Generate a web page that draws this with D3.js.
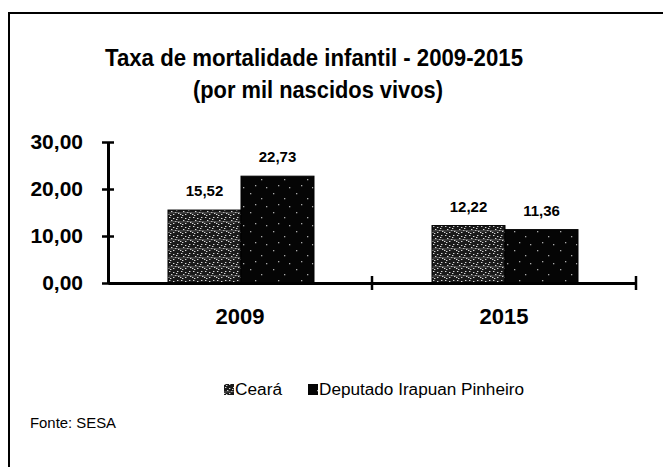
<!DOCTYPE html>
<html>
<head>
<meta charset="utf-8">
<script src="https://cdn.jsdelivr.net/npm/d3@7"></script>
<style>
  html, body { margin: 0; padding: 0; background: #fff; }
  svg { display: block; font-family: "Liberation Sans", Arial, sans-serif; }
</style>
</head>
<body>
<svg id="chart" width="663" height="467"></svg>
<script>
// Chart data
const categories = ["2009", "2015"];
const seriesNames = ["Ceará", "Deputado Irapuan Pinheiro"];
const cearaValues = [15.52, 12.22];
const deputadoValues = [22.73, 11.36];
const yTicks = [0, 10, 20, 30];
const titleLines = ["Taxa de mortalidade infantil - 2009-2015", "(por mil nascidos vivos)"];
const sourceText = "Fonte: SESA";

const fmt = v => v.toFixed(2).replace(".", ",");

const svg = d3.select("#chart");

// Textures for the two series
const defs = svg.append("defs");
const p1 = defs.append("pattern").attr("id", "texCeara").attr("patternUnits", "userSpaceOnUse")
  .attr("width", 12).attr("height", 9);
p1.append("rect").attr("width", 12).attr("height", 9).attr("fill", "#1a1a1a");
[[1,1],[5,2],[9,1],[3,4],[7,5],[10,6],[0,7],[5,7],[8,3],[2,8]].forEach(([x, y]) =>
  p1.append("rect").attr("x", x).attr("y", y).attr("width", 1.4).attr("height", 1).attr("fill", "#d8d8d8"));
p1.append("line").attr("x1", 0).attr("y1", 6).attr("x2", 12).attr("y2", 5.5).attr("stroke", "#888").attr("stroke-width", 0.6);

const p2 = defs.append("pattern").attr("id", "texDep").attr("patternUnits", "userSpaceOnUse")
  .attr("width", 23).attr("height", 19);
p2.append("rect").attr("width", 23).attr("height", 19).attr("fill", "#050505");
[[4,3],[15,8],[9,14],[20,16]].forEach(([x, y]) =>
  p2.append("rect").attr("x", x).attr("y", y).attr("width", 1.3).attr("height", 1.3).attr("fill", "#aaa"));

// Outer frame
svg.append("path").attr("d", "M9,470 V13 H666").attr("fill", "none").attr("stroke", "#000").attr("stroke-width", 2);

// Title
svg.append("text").attr("x", 314).attr("y", 66).attr("text-anchor", "middle")
  .attr("font-size", 23).attr("font-weight", "bold")
  .attr("textLength", 418).attr("lengthAdjust", "spacingAndGlyphs")
  .text(titleLines[0]);
svg.append("text").attr("x", 318).attr("y", 98).attr("text-anchor", "middle")
  .attr("font-size", 23).attr("font-weight", "bold")
  .attr("textLength", 250).attr("lengthAdjust", "spacingAndGlyphs")
  .text(titleLines[1]);

// Scales
const x0 = d3.scaleBand().domain(categories).range([108, 636]);
const x1 = d3.scaleBand().domain(seriesNames).range([60, 206]);
const y = d3.scaleLinear().domain([0, 30]).range([283, 142]);

const rows = categories.map((c, i) => ({
  cat: c,
  vals: [
    { name: seriesNames[0], v: cearaValues[i], fill: "url(#texCeara)" },
    { name: seriesNames[1], v: deputadoValues[i], fill: "url(#texDep)" }
  ]
}));

// Bars
const g = svg.append("g");
const grp = g.selectAll("g.cat").data(rows).join("g")
  .attr("transform", d => `translate(${x0(d.cat)},0)`);
grp.selectAll("rect").data(d => d.vals).join("rect")
  .attr("x", d => x1(d.name)).attr("width", x1.bandwidth())
  .attr("y", d => y(d.v)).attr("height", d => y(0) - y(d.v))
  .attr("fill", d => d.fill).attr("stroke", "#000").attr("stroke-width", 1);
grp.selectAll("text").data(d => d.vals).join("text")
  .attr("x", d => x1(d.name) + x1.bandwidth() / 2)
  .attr("y", d => y(d.v) - 14)
  .attr("text-anchor", "middle").attr("font-size", 15).attr("font-weight", "bold")
  .text(d => fmt(d.v));

// Y axis
const yAxis = d3.axisLeft(y).tickValues(yTicks).tickFormat(fmt).tickSizeInner(6).tickSizeOuter(0).tickPadding(19);
const ya = svg.append("g").attr("transform", "translate(108,0)").call(yAxis);
ya.select(".domain").attr("stroke-width", 3);
ya.selectAll(".tick line").attr("x1", 6).attr("x2", -6).attr("stroke-width", 2.5);
ya.selectAll(".tick text").attr("font-size", 21).attr("font-weight", "bold")
  .attr("font-family", "Liberation Sans, Arial, sans-serif").attr("fill", "#000");

// X axis
const xAxis = d3.axisBottom(x0).tickSize(0).tickPadding(25);
const xa = svg.append("g").attr("transform", "translate(0,283)").call(xAxis);
xa.select(".domain").attr("stroke-width", 3);
xa.selectAll(".tick text").attr("font-size", 22).attr("font-weight", "bold")
  .attr("font-family", "Liberation Sans, Arial, sans-serif").attr("fill", "#000");
// Category separators
xa.selectAll("line.sep").data(x0.domain().slice(1).map(c => x0(c)).concat([x0.range()[1]])).join("line")
  .attr("class", "sep").attr("x1", d => d).attr("x2", d => d).attr("y1", -7).attr("y2", 7)
  .attr("stroke", "#000").attr("stroke-width", 2.5);

// Legend
const legend = svg.append("g").attr("transform", "translate(224,395)");
const legendX = [0, 84];
const legendW = [47, 205];
seriesNames.forEach((n, i) => {
  const lg = legend.append("g").attr("transform", `translate(${legendX[i]},0)`);
  lg.append("rect").attr("x", 0).attr("y", -11).attr("width", 10).attr("height", 11)
    .attr("fill", i === 0 ? "url(#texCeara)" : "url(#texDep)");
  lg.append("text").attr("x", 11).attr("y", 0).attr("font-size", 16)
    .attr("textLength", legendW[i]).attr("lengthAdjust", "spacingAndGlyphs").text(n);
});

// Source note
svg.append("text").attr("x", 30).attr("y", 428).attr("font-size", 15)
  .attr("textLength", 86).attr("lengthAdjust", "spacingAndGlyphs").text(sourceText);
</script>
</body>
</html>
